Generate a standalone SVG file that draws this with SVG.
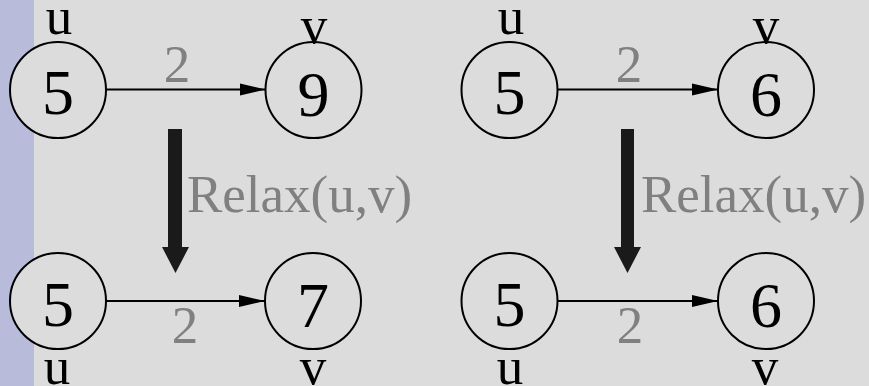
<svg xmlns="http://www.w3.org/2000/svg" width="869" height="386" viewBox="0 0 869 386">
<defs>
<style>
.node circle{fill:#dcdcdc;stroke:#000;stroke-width:2}
.val{font-family:"Liberation Serif","Times New Roman",serif;font-size:64px;fill:#000;text-anchor:middle}
.lbl{font-family:"Liberation Serif","Times New Roman",serif;font-size:53px;fill:#000;text-anchor:middle}
.w{font-family:"Liberation Serif","Times New Roman",serif;font-size:53px;fill:#808080;text-anchor:middle}
.rx{font-family:"Liberation Serif","Times New Roman",serif;font-size:53px;fill:#808080}
.edge{stroke:#000;stroke-width:2.2;fill:none;marker-end:url(#ah)}
.big{fill:#1a1a1a}
</style>
<marker id="ah" markerUnits="userSpaceOnUse" markerWidth="26" markerHeight="14" refX="26" refY="7" orient="auto">
<path d="M0,1 L26,7 L0,13 Z" fill="#000"/>
</marker>
</defs>
<rect x="0" y="0" width="869" height="386" fill="#dcdcdc"/>
<rect x="0" y="0" width="34" height="386" fill="#b8bcda"/>

<g id="connectors">
<line class="edge" x1="106" y1="89.5" x2="265.5" y2="89.5"/>
<line class="edge" x1="106" y1="301" x2="265" y2="301"/>
<line class="edge" x1="557.5" y1="89.5" x2="718" y2="89.5"/>
<line class="edge" x1="557.5" y1="301" x2="718" y2="301"/>
<path class="big" d="M168,129 H182 V247 H189 L175.5,273 L162,247 H168 Z"/>
<path class="big" d="M621,129 H634 V247 H641 L627.5,273 L614,247 H621 Z"/>
</g>

<g id="labels">
<text class="w" x="177" y="82">2</text>
<text class="w" x="185" y="343">2</text>
<text class="w" x="629" y="82">2</text>
<text class="w" x="630" y="343">2</text>
<text class="rx" x="187" y="212">Relax(u,v)</text>
<text class="rx" x="641" y="212">Relax(u,v)</text>
</g>

<g id="n1" class="node">
<circle cx="58" cy="90" r="48"/>
<text class="val" x="58" y="113.5">5</text>
<text class="lbl" x="59" y="34">u</text>
</g>
<g id="n2" class="node">
<circle cx="313.5" cy="90" r="48"/>
<text class="val" x="313.5" y="116">9</text>
<text class="lbl" x="314" y="43">v</text>
</g>
<g id="n3" class="node">
<circle cx="58" cy="301" r="48"/>
<text class="val" x="58" y="326">5</text>
<text class="lbl" x="57" y="384">u</text>
</g>
<g id="n4" class="node">
<circle cx="313" cy="301" r="48"/>
<text class="val" x="313" y="327">7</text>
<text class="lbl" x="313" y="384">v</text>
</g>
<g id="n5" class="node">
<circle cx="509.5" cy="90" r="48"/>
<text class="val" x="509.5" y="113.5">5</text>
<text class="lbl" x="511" y="34">u</text>
</g>
<g id="n6" class="node">
<circle cx="766" cy="90" r="48"/>
<text class="val" x="766" y="116">6</text>
<text class="lbl" x="766" y="43">v</text>
</g>
<g id="n7" class="node">
<circle cx="509.5" cy="301" r="48"/>
<text class="val" x="509.5" y="326">5</text>
<text class="lbl" x="510" y="384">u</text>
</g>
<g id="n8" class="node">
<circle cx="766" cy="301" r="48"/>
<text class="val" x="766" y="327">6</text>
<text class="lbl" x="765" y="384">v</text>
</g>
</svg>
